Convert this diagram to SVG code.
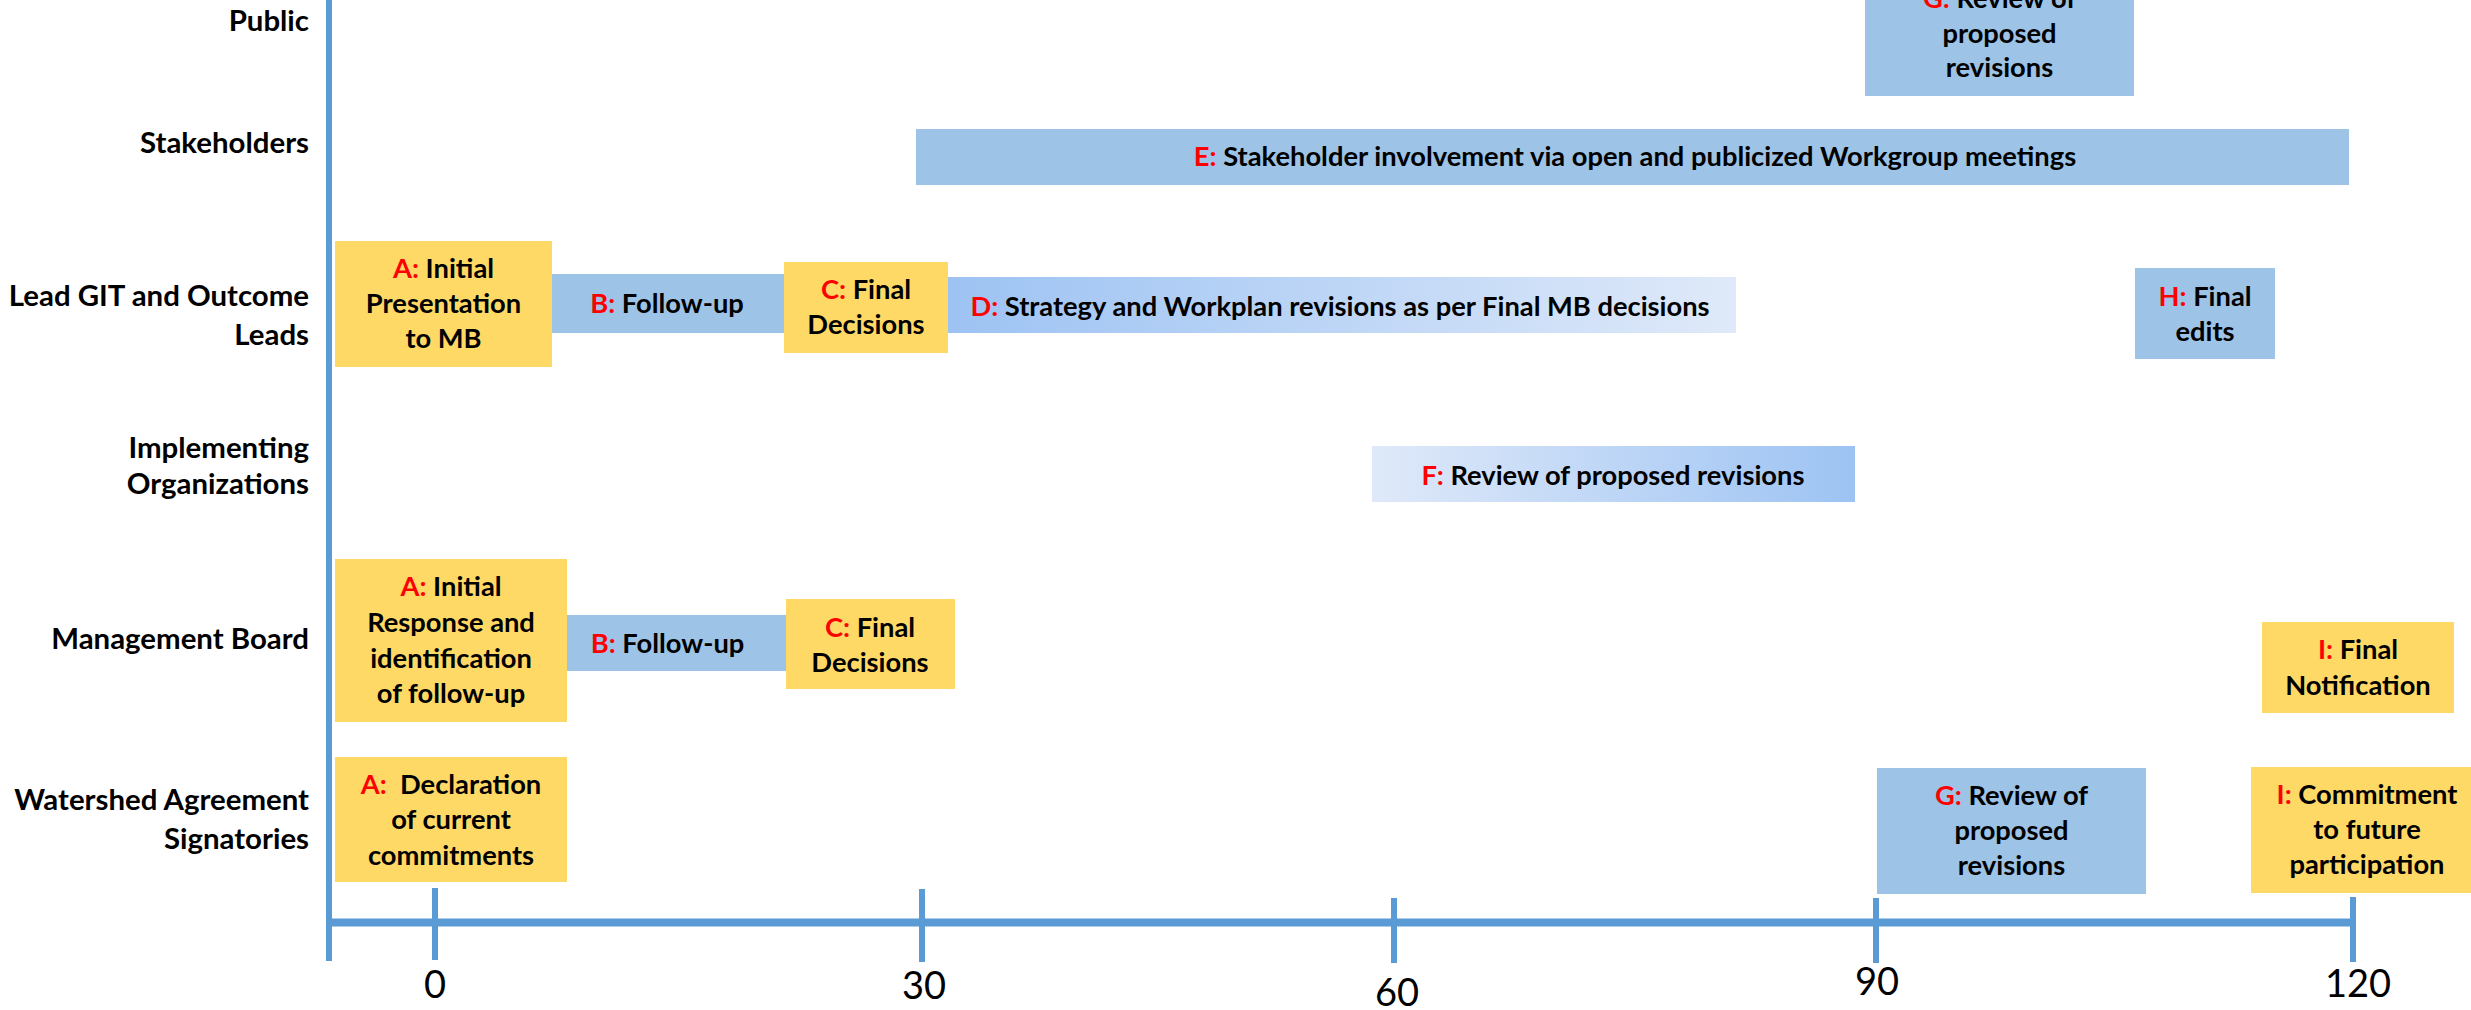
<svg xmlns="http://www.w3.org/2000/svg" width="2471" height="1010" viewBox="0 0 2471 1010">
<defs>
<linearGradient id="gD" x1="0" y1="0" x2="1" y2="0"><stop offset="0" stop-color="#9DC3F3"/><stop offset="1" stop-color="#DFE9F9"/></linearGradient>
<linearGradient id="gF" x1="0" y1="0" x2="1" y2="0"><stop offset="0" stop-color="#DFE9F9"/><stop offset="1" stop-color="#9DC3F3"/></linearGradient>
<style>
text{font-family:Lato,"Liberation Sans",sans-serif;font-weight:bold;fill:#000}
.lbl{font-size:29.4px;text-anchor:end}
.bx{font-size:27.3px;text-anchor:middle}
.k{fill:#FF0000}
.num{font-weight:normal;font-size:38px;text-anchor:middle}
.y{fill:#FFD966}
.b{fill:#9DC3E6}
.ax{stroke:#5B9BD5;fill:none}
</style>
</defs>
<rect width="2471" height="1010" fill="#FFFFFF"/>
<g id="lane-labels">
<text class="lbl" x="309" y="31">Public</text>
<text class="lbl" x="309" y="153">Stakeholders</text>
<text class="lbl" x="309" y="306">Lead GIT and Outcome<tspan x="309" y="345">Leads</tspan></text>
<text class="lbl" x="309" y="458">Implementing<tspan x="309" y="494">Organizations</tspan></text>
<text class="lbl" x="309" y="649">Management Board</text>
<text class="lbl" x="309" y="810">Watershed Agreement<tspan x="309" y="849">Signatories</tspan></text>
</g>
<g id="connectors">
<line class="ax" x1="329" y1="0" x2="329" y2="961" stroke-width="6"/>
<line class="ax" x1="329" y1="922.5" x2="2353" y2="922.5" stroke-width="8"/>
<line class="ax" x1="435" y1="888" x2="435" y2="960" stroke-width="6"/>
<line class="ax" x1="922" y1="889" x2="922" y2="962" stroke-width="6"/>
<line class="ax" x1="1394" y1="898" x2="1394" y2="963" stroke-width="6"/>
<line class="ax" x1="1876" y1="898" x2="1876" y2="963" stroke-width="6"/>
<line class="ax" x1="2353" y1="897" x2="2353" y2="962" stroke-width="6"/>
</g>
<g id="axis-labels">
<text class="num" x="435" y="998">0</text>
<text class="num" x="924" y="999">30</text>
<text class="num" x="1397" y="1006">60</text>
<text class="num" x="1877" y="995">90</text>
<text class="num" x="2358" y="997">120</text>
</g>
<g id="node-G-public">
<rect class="b" x="1865" y="-30" width="269" height="126"/>
<text class="bx" x="1999.5" y="8"><tspan class="k">G:</tspan> Review of<tspan x="1999.5" y="43">proposed</tspan><tspan x="1999.5" y="77">revisions</tspan></text>
</g>
<g id="node-E">
<rect class="b" x="916" y="129" width="1433" height="56"/>
<text class="bx" x="1635" y="166"><tspan class="k">E:</tspan> Stakeholder involvement via open and publicized Workgroup meetings</text>
</g>
<g id="node-B-lead">
<rect class="b" x="548" y="274" width="236" height="59"/>
<text class="bx" x="667" y="313"><tspan class="k">B:</tspan> Follow-up</text>
</g>
<g id="node-A-lead">
<rect class="y" x="335" y="241" width="217" height="126"/>
<text class="bx" x="443.5" y="278"><tspan class="k">A:</tspan> Initial<tspan x="443.5" y="313">Presentation</tspan><tspan x="443.5" y="348">to MB</tspan></text>
</g>
<g id="node-C-lead">
<rect class="y" x="784" y="262" width="164" height="91"/>
<text class="bx" x="866" y="299"><tspan class="k">C:</tspan> Final<tspan x="866" y="334">Decisions</tspan></text>
</g>
<g id="node-D">
<rect x="948" y="277" width="788" height="56" fill="url(#gD)"/>
<text class="bx" x="1340" y="316"><tspan class="k">D:</tspan> Strategy and Workplan revisions as per Final MB decisions</text>
</g>
<g id="node-H">
<rect class="b" x="2135" y="268" width="140" height="91"/>
<text class="bx" x="2205" y="306"><tspan class="k">H:</tspan> Final<tspan x="2205" y="341">edits</tspan></text>
</g>
<g id="node-F">
<rect x="1372" y="446" width="483" height="56" fill="url(#gF)"/>
<text class="bx" x="1613" y="485"><tspan class="k">F:</tspan> Review of proposed revisions</text>
</g>
<g id="node-B-mb">
<rect class="b" x="567" y="615" width="220" height="56"/>
<text class="bx" x="667.5" y="653"><tspan class="k">B:</tspan> Follow-up</text>
</g>
<g id="node-A-mb">
<rect class="y" x="335" y="559" width="232" height="163"/>
<text class="bx" x="451" y="596"><tspan class="k">A:</tspan> Initial<tspan x="451" y="632">Response and</tspan><tspan x="451" y="668">identification</tspan><tspan x="451" y="703">of follow-up</tspan></text>
</g>
<g id="node-C-mb">
<rect class="y" x="786" y="599" width="169" height="90"/>
<text class="bx" x="870" y="637"><tspan class="k">C:</tspan> Final<tspan x="870" y="672">Decisions</tspan></text>
</g>
<g id="node-I-mb">
<rect class="y" x="2262" y="622" width="192" height="91"/>
<text class="bx" x="2358" y="659"><tspan class="k">I:</tspan> Final<tspan x="2358" y="695">Notification</tspan></text>
</g>
<g id="node-A-wa">
<rect class="y" x="335" y="757" width="232" height="125"/>
<text class="bx" x="451" y="794" xml:space="preserve"><tspan class="k">A:</tspan>  Declaration<tspan x="451" y="829">of current</tspan><tspan x="451" y="865">commitments</tspan></text>
</g>
<g id="node-G-wa">
<rect class="b" x="1877" y="768" width="269" height="126"/>
<text class="bx" x="2011.5" y="805"><tspan class="k">G:</tspan> Review of<tspan x="2011.5" y="840">proposed</tspan><tspan x="2011.5" y="875">revisions</tspan></text>
</g>
<g id="node-I-wa">
<rect class="y" x="2251" y="767" width="232" height="126"/>
<text class="bx" x="2367" y="804"><tspan class="k">I:</tspan> Commitment<tspan x="2367" y="839">to future</tspan><tspan x="2367" y="874">participation</tspan></text>
</g>
</svg>
